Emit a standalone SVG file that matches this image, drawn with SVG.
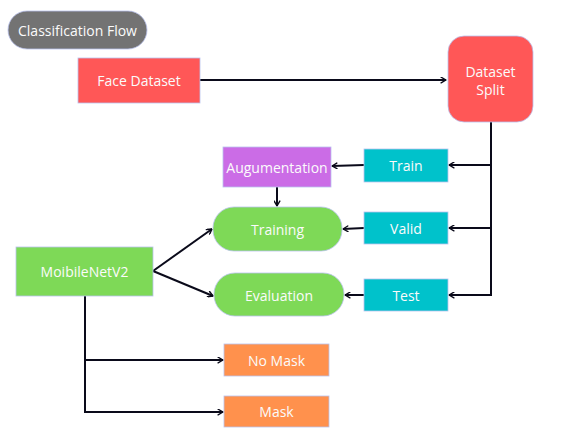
<svg xmlns="http://www.w3.org/2000/svg" width="577" height="433" viewBox="0 0 577 433">
<defs>
<marker id="ah" viewBox="0 0 10 10" refX="9" refY="5" markerWidth="7" markerHeight="7" orient="auto" markerUnits="userSpaceOnUse">
<path d="M2,1 L9,5 L2,9" fill="none" stroke="#0a0a1a" stroke-width="2" stroke-linecap="round" stroke-linejoin="round"/>
</marker>
<style>
.n{stroke:#b9c2ee;stroke-width:0.8}
.t{font-family:"Open Sans","Noto Sans",sans-serif;font-size:14px;fill:#fbfbfb;text-anchor:middle;dominant-baseline:central}
.c{fill:none;stroke:#0a0a1a;stroke-width:2}
.a{marker-end:url(#ah)}
</style>
</defs>
<rect width="577" height="433" fill="#ffffff"/>
<g id="connectors">
<line class="c a" x1="200" y1="80" x2="446" y2="80"/>
<polyline class="c" points="491,122 491,295 480,295"/>
<line class="c a" x1="491" y1="165" x2="449" y2="165"/>
<line class="c a" x1="491" y1="228" x2="449" y2="228"/>
<line class="c a" x1="491" y1="295" x2="449" y2="295"/>
<line class="c a" x1="364" y1="165" x2="332" y2="166"/>
<line class="c a" x1="277" y1="187" x2="277" y2="206"/>
<line class="c a" x1="364" y1="228" x2="343" y2="229"/>
<line class="c a" x1="364" y1="295" x2="345" y2="295"/>
<line class="c a" x1="153" y1="271" x2="212" y2="229"/>
<line class="c a" x1="153" y1="271" x2="213" y2="296"/>
<polyline class="c" points="85,296 85,412 100,412"/>
<line class="c a" x1="85" y1="360" x2="223" y2="360"/>
<line class="c a" x1="85" y1="412" x2="223" y2="412"/>
</g>
<g id="classification-flow">
<rect class="n" x="8" y="11" width="139" height="38" rx="19" fill="#737373"/>
<text class="t" x="77.5" y="30">Classification Flow</text>
</g>
<g id="face-dataset">
<rect class="n" x="78" y="58" width="122" height="45" fill="#ff5757"/>
<text class="t" x="139" y="80.5">Face Dataset</text>
</g>
<g id="dataset-split">
<rect class="n" x="448" y="36" width="85" height="86" rx="16" fill="#ff5757"/>
<text class="t" x="490.5" y="71">Dataset</text>
<text class="t" x="490.5" y="89">Split</text>
</g>
<g id="train">
<rect class="n" x="364" y="149" width="84" height="33" fill="#00c2cb"/>
<text class="t" x="406" y="165.5">Train</text>
</g>
<g id="valid">
<rect class="n" x="364" y="212" width="84" height="32" fill="#00c2cb"/>
<text class="t" x="406" y="228">Valid</text>
</g>
<g id="test">
<rect class="n" x="364" y="279" width="84" height="32" fill="#00c2cb"/>
<text class="t" x="406" y="295">Test</text>
</g>
<g id="augumentation">
<rect class="n" x="223" y="147" width="108" height="40" fill="#cb6ce6"/>
<text class="t" x="277" y="167">Augumentation</text>
</g>
<g id="training">
<rect class="n" x="213" y="207" width="129" height="44" rx="21" fill="#7ed957"/>
<text class="t" x="277.5" y="229">Training</text>
</g>
<g id="evaluation">
<rect class="n" x="214" y="273" width="130" height="43" rx="21" fill="#7ed957"/>
<text class="t" x="279" y="295.5">Evaluation</text>
</g>
<g id="mobilenetv2">
<rect class="n" x="16" y="247" width="137" height="49" fill="#7ed957"/>
<text class="t" x="84.5" y="271.5">MoibileNetV2</text>
</g>
<g id="no-mask">
<rect class="n" x="224" y="344" width="105" height="32" fill="#ff914d"/>
<text class="t" x="276.5" y="360">No Mask</text>
</g>
<g id="mask">
<rect class="n" x="224" y="396" width="105" height="31" fill="#ff914d"/>
<text class="t" x="276.5" y="411.5">Mask</text>
</g>
</svg>
